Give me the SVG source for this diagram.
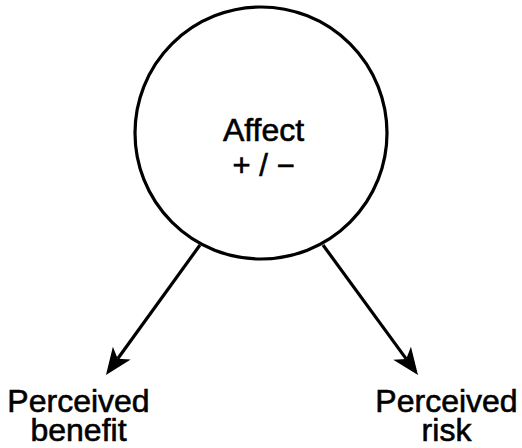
<svg xmlns="http://www.w3.org/2000/svg" width="522" height="448" viewBox="0 0 522 448">
<style>
.lbl{font-family:"Liberation Sans",Arial,Helvetica,sans-serif;fill:#000;stroke:#000;stroke-width:0.6;text-anchor:middle}
.edge{stroke:#000;stroke-width:3.2;fill:none;marker-end:url(#ah)}
</style>
<defs>
<marker id="ah" markerUnits="userSpaceOnUse" orient="auto" overflow="visible" refX="0" refY="0" markerWidth="30" markerHeight="24">
<path d="M20,0 L-7,-11 L0,0 L-7,11 Z" fill="#000"/>
</marker>
</defs>
<rect width="522" height="448" fill="#fff"/>
<g id="affect">
<circle cx="261" cy="133" r="126" fill="#fff" stroke="#000" stroke-width="3.2"/>
<text class="lbl" font-size="32"><tspan x="263.5" y="141">Affect</tspan><tspan x="263.5" y="176" font-size="31">+ / −</tspan></text>
</g>
<g id="benefit">
<text class="lbl" font-size="32"><tspan x="78.5" y="412">Perceived</tspan><tspan x="78.5" y="441">benefit</tspan></text>
</g>
<g id="risk">
<text class="lbl" font-size="32"><tspan x="446.5" y="412">Perceived</tspan><tspan x="446.5" y="441">risk</tspan></text>
</g>
<g id="connectors">
<line class="edge" x1="200" y1="245" x2="117.7" y2="358.8"/>
<line class="edge" x1="323" y1="245" x2="406.2" y2="358.9"/>
</g>
</svg>
